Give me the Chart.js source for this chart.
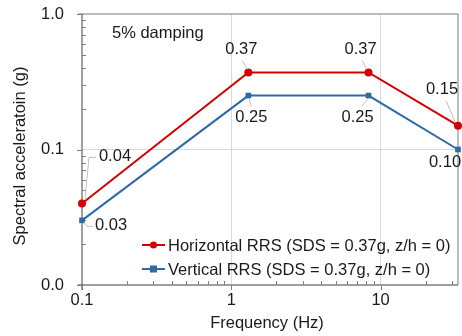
<!DOCTYPE html>
<html>
<head>
<meta charset="utf-8">
<script src="https://cdn.jsdelivr.net/npm/chart.js@4.4.0/dist/chart.umd.min.js"></script>
<style>
  html, body { margin: 0; padding: 0; background: #fff; }
  #wrap { width: 462px; height: 336px; }
</style>
</head>
<body>
<div id="wrap"><canvas id="rrs" width="462" height="336"></canvas></div>
<script>
// dados
const frequencias = [0.1, 1.3, 8.3, 33];
const horizontal = [0.04, 0.37, 0.37, 0.15];
const vertical = [0.03, 0.25, 0.25, 0.10];
const ticksX = [0.1, 1, 10];
const ticksY = [0.01, 0.1, 1];
const nomeHorizontal = 'Horizontal RRS (SDS = 0.37g, z/h = 0)';
const nomeVertical = 'Vertical RRS (SDS = 0.37g, z/h = 0)';

const corH = '#d40000';
const corV = '#2f6aa6';
const familia = '"Liberation Sans", Arial, sans-serif';
const fonte = '16.5px ' + familia;

function pontos(ys) {
  return frequencias.map((x, i) => ({ x, y: ys[i] }));
}

// onde fica cada rótulo em relação ao ponto (texto + linha guia)
const rotulosH = [
  { dx: 33, dy: -47, guia: [[3, -4], [7, -46], [14, -46]] },
  { dx: -7, dy: -23, guia: [[-6, -12], [-1, -3]] },
  { dx: -8, dy: -23, guia: [[-6, -12], [-2, -3]] },
  { dx: -16, dy: -36, guia: [[-12, -25], [-3, -4]] }
];
const rotulosV = [
  { dx: 29, dy: 5, guia: [[2, 2], [5, 6], [11, 6]] },
  { dx: 3, dy: 22, guia: [[1, 4], [3, 11]] },
  { dx: -11, dy: 22, guia: [[-1, 4], [-7, 11]] },
  { dx: -13, dy: 13, guia: [] }
];

const enfeites = {
  id: 'enfeites',
  beforeDatasetsDraw(chart) {
    const { ctx, chartArea: a, scales } = chart;
    const sx = scales.x, sy = scales.y;
    ctx.save();
    // borda superior e direita
    ctx.strokeStyle = '#a6a6a6';
    ctx.lineWidth = 1.5;
    ctx.beginPath();
    ctx.moveTo(a.left - 4, a.top);
    ctx.lineTo(a.right, a.top);
    ctx.lineTo(a.right, a.bottom);
    ctx.stroke();
    // eixos
    ctx.strokeStyle = '#7f7f7f';
    ctx.lineWidth = 1.5;
    ctx.beginPath();
    ctx.moveTo(a.left - 4, a.bottom);
    ctx.lineTo(a.right, a.bottom);
    ctx.stroke();
    ctx.strokeStyle = '#404040';
    ctx.lineWidth = 1;
    ctx.beginPath();
    ctx.moveTo(a.left, a.top);
    ctx.lineTo(a.left, a.bottom + 5);
    ctx.stroke();
    // marcas maiores (para fora)
    ctx.strokeStyle = '#7f7f7f';
    ctx.beginPath();
    ticksY.forEach(v => {
      const y = Math.round(sy.getPixelForValue(v)) + 0.5;
      ctx.moveTo(a.left - 5, y);
      ctx.lineTo(a.left, y);
    });
    ticksX.forEach(v => {
      const x = Math.round(sx.getPixelForValue(v)) + 0.5;
      ctx.moveTo(x, a.bottom);
      ctx.lineTo(x, a.bottom + 5);
    });
    ctx.stroke();
    // marcas menores (para dentro)
    ctx.beginPath();
    [0.01, 0.1].forEach(d => {
      for (let k = 2; k <= 9; k++) {
        const y = Math.round(sy.getPixelForValue(d * k)) + 0.5;
        ctx.moveTo(a.left, y);
        ctx.lineTo(a.left + 4, y);
      }
    });
    [0.1, 1, 10].forEach(d => {
      for (let k = 2; k <= 9; k++) {
        const v = d * k;
        if (v > sx.max) break;
        const x = Math.round(sx.getPixelForValue(v)) + 0.5;
        ctx.moveTo(x, a.bottom);
        ctx.lineTo(x, a.bottom - 4);
      }
    });
    ctx.stroke();
    ctx.restore();
  },
  afterDatasetsDraw(chart) {
    const { ctx } = chart;
    ctx.save();
    ctx.font = fonte;
    ctx.fillStyle = '#1a1a1a';
    ctx.textAlign = 'center';
    ctx.textBaseline = 'middle';
    [[0, horizontal, rotulosH], [1, vertical, rotulosV]].forEach(([ds, vals, pos]) => {
      const meta = chart.getDatasetMeta(ds);
      meta.data.forEach((el, i) => {
        const p = pos[i];
        if (p.guia.length) {
          ctx.strokeStyle = '#bfbfbf';
          ctx.lineWidth = 1;
          ctx.beginPath();
          p.guia.forEach(([gx, gy], j) => {
            if (j === 0) ctx.moveTo(el.x + gx, el.y + gy);
            else ctx.lineTo(el.x + gx, el.y + gy);
          });
          ctx.stroke();
        }
        ctx.fillText(vals[i].toFixed(2), el.x + p.dx, el.y + p.dy);
      });
    });

    // texto de amortecimento
    ctx.textAlign = 'left';
    ctx.fillText('5% damping', 112, 33);

    // títulos dos eixos
    ctx.textAlign = 'center';
    ctx.fillText('Frequency (Hz)', 267, 323);
    ctx.save();
    ctx.translate(20, 156);
    ctx.rotate(-Math.PI / 2);
    ctx.fillText('Spectral acceleratoin (g)', 0, 0);
    ctx.restore();

    // legenda
    const itens = [
      { nome: nomeHorizontal, cor: corH, forma: 'circle', y: 245 },
      { nome: nomeVertical, cor: corV, forma: 'square', y: 269 }
    ];
    itens.forEach(it => {
      ctx.strokeStyle = it.cor;
      ctx.fillStyle = it.cor;
      ctx.lineWidth = 2;
      ctx.beginPath();
      ctx.moveTo(142, it.y);
      ctx.lineTo(165, it.y);
      ctx.stroke();
      if (it.forma === 'circle') {
        ctx.beginPath();
        ctx.arc(153.5, it.y, 3.5, 0, Math.PI * 2);
        ctx.fill();
      } else {
        ctx.fillRect(150, it.y - 3.5, 7, 7);
      }
      ctx.fillStyle = '#1a1a1a';
      ctx.textAlign = 'left';
      ctx.fillText(it.nome, 168, it.y + 1);
    });
    ctx.restore();
  }
};

const chart = new Chart(document.getElementById('rrs').getContext('2d'), {
  type: 'line',
  data: {
    datasets: [{
      label: nomeHorizontal,
      data: pontos(horizontal),
      borderColor: corH,
      backgroundColor: corH,
      borderWidth: 2,
      pointStyle: 'circle',
      pointRadius: 4,
      pointBorderWidth: 0,
      tension: 0,
      clip: false
    }, {
      label: nomeVertical,
      data: pontos(vertical),
      borderColor: corV,
      backgroundColor: corV,
      borderWidth: 2,
      pointStyle: 'rect',
      pointRadius: 4,
      pointBorderWidth: 0,
      tension: 0,
      clip: false
    }]
  },
  options: {
    responsive: false,
    animation: false,
    devicePixelRatio: 1,
    layout: { padding: { top: 14, right: 4, left: 0, bottom: 0 } },
    plugins: {
      legend: { display: false },
      tooltip: { enabled: false }
    },
    scales: {
      x: {
        type: 'logarithmic',
        min: 0.1,
        max: 33,
        afterBuildTicks: s => { s.ticks = ticksX.map(v => ({ value: v })); },
        afterFit: s => { s.height = 51; s.paddingLeft = 0; s.paddingRight = 0; },
        ticks: {
          color: '#1a1a1a',
          font: { family: familia, size: 16.5 },
          padding: 6,
          maxRotation: 0,
          autoSkip: false,
          callback: v => String(v)
        },
        grid: {
          drawTicks: false,
          color: c => (c.tick && c.tick.value > 0.1 ? '#d9d9d9' : 'rgba(0,0,0,0)')
        },
        border: { display: false }
      },
      y: {
        type: 'logarithmic',
        min: 0.01,
        max: 1,
        afterBuildTicks: s => { s.ticks = ticksY.map(v => ({ value: v })); },
        afterFit: s => { s.width = 82; s.paddingTop = 0; s.paddingBottom = 0; },
        ticks: {
          color: '#1a1a1a',
          font: { family: familia, size: 16.5 },
          padding: 18,
          autoSkip: false,
          callback: v => v.toFixed(1)
        },
        grid: {
          drawTicks: false,
          color: c => (c.tick && c.tick.value === 0.1 ? '#d9d9d9' : 'rgba(0,0,0,0)')
        },
        border: { display: false }
      }
    }
  },
  plugins: [enfeites]
});
</script>
</body>
</html>
